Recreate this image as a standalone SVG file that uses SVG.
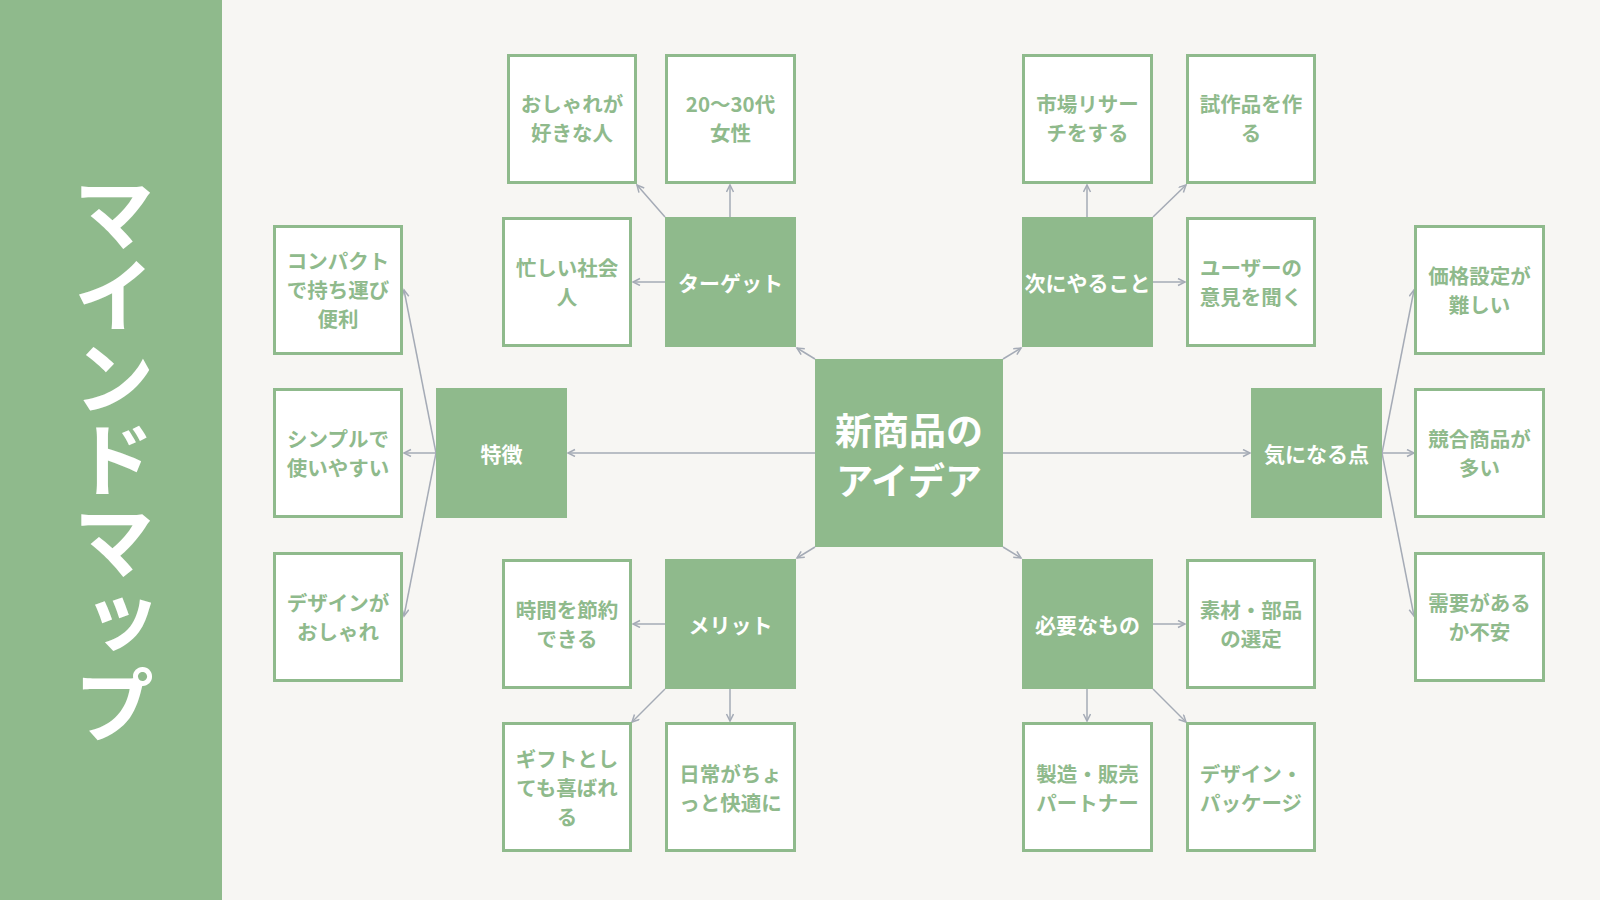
<svg xmlns="http://www.w3.org/2000/svg" width="1600" height="900" viewBox="0 0 1600 900">
  <style>
    .bg { fill: #f7f6f3; }
    .panel { fill: #8fba8c; }
    .hub { fill: #8fba8c; }
    .leaf { fill: #ffffff; stroke: #8fba8c; stroke-width: 3; }
    .t { font-family: "Noto Sans CJK JP", "Noto Sans", sans-serif; font-weight: 700; text-anchor: middle; dominant-baseline: central; }
    .tl { font-size: 20.5px; fill: #8fba8c; }
    .th { font-size: 21px; fill: #ffffff; }
    .tc { font-size: 37px; fill: #ffffff; }
    .title { font-size: 82px; fill: #ffffff; }
    .edge { stroke: #a5abb6; stroke-width: 1.5; fill: none; marker-end: url(#arrow); }
  </style>
  <defs>
    <marker id="arrow" markerUnits="userSpaceOnUse" markerWidth="10" markerHeight="10" refX="8" refY="4" orient="auto">
      <path d="M1,0.5 L8,4 L1,7.5" fill="none" stroke="#a5abb6" stroke-width="1.5"/>
    </marker>
  </defs>
  <rect class="bg" x="0" y="0" width="1600" height="900"/>

  <g id="title">
    <rect class="panel" x="0" y="0" width="222" height="900"/>
    <text class="t title" x="114" y="459" writing-mode="vertical-rl" style="writing-mode: vertical-rl;">マインドマップ</text>
  </g>

  <g id="connectors">
    <line class="edge" x1="815" y1="359" x2="797" y2="348"/>
    <line class="edge" x1="1003" y1="359" x2="1021" y2="348"/>
    <line class="edge" x1="815" y1="547" x2="797" y2="558"/>
    <line class="edge" x1="1003" y1="547" x2="1021" y2="558"/>
    <line class="edge" x1="815" y1="453" x2="568" y2="453"/>
    <line class="edge" x1="1003" y1="453" x2="1250" y2="453"/>

    <line class="edge" x1="665" y1="217" x2="637" y2="185"/>
    <line class="edge" x1="730" y1="217" x2="730" y2="185"/>
    <line class="edge" x1="665" y1="282" x2="633" y2="282"/>

    <line class="edge" x1="1087" y1="217" x2="1087" y2="185"/>
    <line class="edge" x1="1153" y1="217" x2="1186" y2="185"/>
    <line class="edge" x1="1153" y1="282" x2="1185" y2="282"/>

    <line class="edge" x1="665" y1="624" x2="633" y2="624"/>
    <line class="edge" x1="665" y1="689" x2="632" y2="722"/>
    <line class="edge" x1="730" y1="689" x2="730" y2="721"/>

    <line class="edge" x1="1153" y1="624" x2="1185" y2="624"/>
    <line class="edge" x1="1087" y1="689" x2="1087" y2="721"/>
    <line class="edge" x1="1153" y1="689" x2="1186" y2="722"/>

    <line class="edge" x1="436" y1="453" x2="404" y2="290"/>
    <line class="edge" x1="436" y1="453" x2="404" y2="453"/>
    <line class="edge" x1="436" y1="453" x2="404" y2="616"/>

    <line class="edge" x1="1382" y1="453" x2="1414" y2="290"/>
    <line class="edge" x1="1382" y1="453" x2="1414" y2="453"/>
    <line class="edge" x1="1382" y1="453" x2="1414" y2="616"/>
  </g>

  <g id="center">
    <rect class="hub" x="815" y="359" width="188" height="188"/>
    <text class="t tc" x="909" y="429">新商品の</text>
    <text class="t tc" x="909" y="479">アイデア</text>
  </g>

  <g id="target">
    <rect class="hub" x="665" y="217" width="131" height="130"/>
    <text class="t th" x="730.5" y="282">ターゲット</text>
  </g>
  <g id="next">
    <rect class="hub" x="1022" y="217" width="131" height="130"/>
    <text class="t th" x="1087.5" y="282">次にやること</text>
  </g>
  <g id="merit">
    <rect class="hub" x="665" y="559" width="131" height="130"/>
    <text class="t th" x="730.5" y="624">メリット</text>
  </g>
  <g id="needs">
    <rect class="hub" x="1022" y="559" width="131" height="130"/>
    <text class="t th" x="1087.5" y="624">必要なもの</text>
  </g>
  <g id="features">
    <rect class="hub" x="436" y="388" width="131" height="130"/>
    <text class="t th" x="501.5" y="453">特徴</text>
  </g>
  <g id="concerns">
    <rect class="hub" x="1251" y="388" width="131" height="130"/>
    <text class="t th" x="1316.5" y="453">気になる点</text>
  </g>

  <g id="leaf-fashion">
    <rect class="leaf" x="508.5" y="55.5" width="127" height="127"/>
    <text class="t tl" x="572" y="103">おしゃれが</text>
    <text class="t tl" x="572" y="132">好きな人</text>
  </g>
  <g id="leaf-age">
    <rect class="leaf" x="666.5" y="55.5" width="128" height="127"/>
    <text class="t tl" x="730.5" y="103">20～30代</text>
    <text class="t tl" x="730.5" y="132">女性</text>
  </g>
  <g id="leaf-busy">
    <rect class="leaf" x="503.5" y="218.5" width="127" height="127"/>
    <text class="t tl" x="567" y="267">忙しい社会</text>
    <text class="t tl" x="567" y="296">人</text>
  </g>

  <g id="leaf-research">
    <rect class="leaf" x="1023.5" y="55.5" width="128" height="127"/>
    <text class="t tl" x="1087.5" y="103">市場リサー</text>
    <text class="t tl" x="1087.5" y="132">チをする</text>
  </g>
  <g id="leaf-prototype">
    <rect class="leaf" x="1187.5" y="55.5" width="127" height="127"/>
    <text class="t tl" x="1251" y="103">試作品を作</text>
    <text class="t tl" x="1251" y="132">る</text>
  </g>
  <g id="leaf-feedback">
    <rect class="leaf" x="1187.5" y="218.5" width="127" height="127"/>
    <text class="t tl" x="1251" y="267">ユーザーの</text>
    <text class="t tl" x="1251" y="296">意見を聞く</text>
  </g>

  <g id="leaf-compact">
    <rect class="leaf" x="274.5" y="226.5" width="127" height="127"/>
    <text class="t tl" x="338" y="260">コンパクト</text>
    <text class="t tl" x="338" y="289">で持ち運び</text>
    <text class="t tl" x="338" y="318">便利</text>
  </g>
  <g id="leaf-simple">
    <rect class="leaf" x="274.5" y="389.5" width="127" height="127"/>
    <text class="t tl" x="338" y="438">シンプルで</text>
    <text class="t tl" x="338" y="467">使いやすい</text>
  </g>
  <g id="leaf-design">
    <rect class="leaf" x="274.5" y="553.5" width="127" height="127"/>
    <text class="t tl" x="338" y="602">デザインが</text>
    <text class="t tl" x="338" y="631">おしゃれ</text>
  </g>

  <g id="leaf-price">
    <rect class="leaf" x="1415.5" y="226.5" width="128" height="127"/>
    <text class="t tl" x="1479.5" y="275">価格設定が</text>
    <text class="t tl" x="1479.5" y="304">難しい</text>
  </g>
  <g id="leaf-competition">
    <rect class="leaf" x="1415.5" y="389.5" width="128" height="127"/>
    <text class="t tl" x="1479.5" y="438">競合商品が</text>
    <text class="t tl" x="1479.5" y="467">多い</text>
  </g>
  <g id="leaf-demand">
    <rect class="leaf" x="1415.5" y="553.5" width="128" height="127"/>
    <text class="t tl" x="1479.5" y="602">需要がある</text>
    <text class="t tl" x="1479.5" y="631">か不安</text>
  </g>

  <g id="leaf-time">
    <rect class="leaf" x="503.5" y="560.5" width="127" height="127"/>
    <text class="t tl" x="567" y="609">時間を節約</text>
    <text class="t tl" x="567" y="638">できる</text>
  </g>
  <g id="leaf-gift">
    <rect class="leaf" x="503.5" y="723.5" width="127" height="127"/>
    <text class="t tl" x="567" y="758">ギフトとし</text>
    <text class="t tl" x="567" y="787">ても喜ばれ</text>
    <text class="t tl" x="567" y="816">る</text>
  </g>
  <g id="leaf-daily">
    <rect class="leaf" x="666.5" y="723.5" width="128" height="127"/>
    <text class="t tl" x="730.5" y="773">日常がちょ</text>
    <text class="t tl" x="730.5" y="802">っと快適に</text>
  </g>

  <g id="leaf-material">
    <rect class="leaf" x="1187.5" y="560.5" width="127" height="127"/>
    <text class="t tl" x="1251" y="609">素材・部品</text>
    <text class="t tl" x="1251" y="638">の選定</text>
  </g>
  <g id="leaf-partner">
    <rect class="leaf" x="1023.5" y="723.5" width="128" height="127"/>
    <text class="t tl" x="1087.5" y="773">製造・販売</text>
    <text class="t tl" x="1087.5" y="802">パートナー</text>
  </g>
  <g id="leaf-package">
    <rect class="leaf" x="1187.5" y="723.5" width="127" height="127"/>
    <text class="t tl" x="1251" y="773">デザイン・</text>
    <text class="t tl" x="1251" y="802">パッケージ</text>
  </g>
</svg>
